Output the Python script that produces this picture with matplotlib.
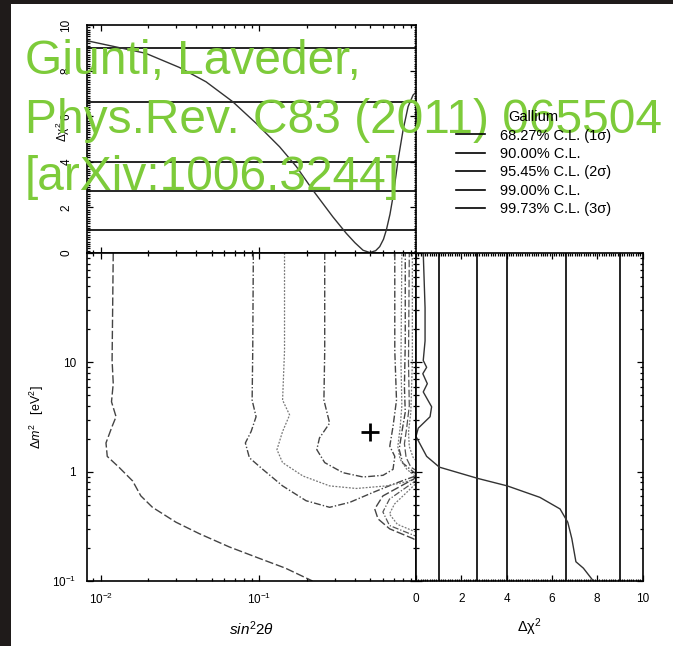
import matplotlib.pyplot as plt
from matplotlib.lines import Line2D
from matplotlib.patches import Rectangle
from matplotlib.ticker import MultipleLocator, LogLocator, NullFormatter, FixedLocator

plt.rcParams['font.family'] = ['Liberation Sans', 'DejaVu Sans']
plt.rcParams['mathtext.fontset'] = 'custom'
plt.rcParams['mathtext.rm'] = 'Liberation Sans'
plt.rcParams['mathtext.it'] = 'Liberation Sans:italic'

# confidence levels (delta chi^2, 1 dof)
cl_levels = [1.0, 2.71, 4.0, 6.63, 9.0]
cl_labels = ['68.27% C.L. (1σ)', '90.00% C.L.', '95.45% C.L. (2σ)',
             '99.00% C.L.', '99.73% C.L. (3σ)']

# top panel: delta chi^2 vs sin^2 2theta
top_s = [0.0082, 0.0192, 0.0313, 0.0461, 0.0678, 0.0953, 0.134, 0.171, 0.217,
         0.290, 0.353, 0.400, 0.450, 0.496, 0.540, 0.573, 0.605, 0.631, 0.665,
         0.695, 0.748, 0.804, 0.865, 0.930, 0.97]
top_chi = [9.31, 8.76, 8.14, 7.51, 6.64, 5.69, 4.66, 3.79, 2.76,
           1.59, 0.86, 0.45, 0.12, 0.02, 0.10, 0.28, 0.60, 1.01, 1.70,
           2.47, 4.08, 5.39, 6.42, 6.93, 7.05]

# right panel: delta chi^2 vs delta m^2
right_chi = [0.32, 0.40, 0.40, 0.32, 0.47, 0.30, 0.50, 0.32, 0.69, 0.62, 0.10, 0.0,
             0.47, 1.03, 2.75, 4.03, 5.47, 6.36, 6.70, 6.88, 7.06, 7.39, 7.83]
right_dm = [100, 31.5, 15.7, 10.4, 9.0, 7.87, 6.38, 5.36, 3.92, 3.18, 2.50, 2.10,
            1.38, 1.10, 0.865, 0.741, 0.582, 0.456, 0.345, 0.244, 0.150, 0.131, 0.1]

# main panel contours (sin^2 2theta, delta m^2)
c1_s = [0.0120, 0.0118, 0.0120, 0.0117, 0.0125, 0.0118, 0.0108, 0.0110, 0.0131,
        0.0159, 0.0179, 0.0212, 0.0298, 0.0418, 0.0646, 0.100, 0.146, 0.216]
c1_dm = [100, 10.4, 6.4, 4.36, 3.18, 2.59, 1.83, 1.38, 1.09,
         0.822, 0.601, 0.472, 0.345, 0.271, 0.205, 0.161, 0.131, 0.1]

c2_s = [0.0916, 0.0908, 0.0900, 0.0953, 0.0887, 0.0816, 0.0865, 0.105, 0.140, 0.197,
        0.277, 0.371, 0.520, 0.695, 0.845, 1.0, 0.93, 0.80, 0.76, 0.79, 0.83, 0.82, 0.83, 0.83]
c2_dm = [100, 12.8, 4.51, 3.18, 2.33, 1.83, 1.34, 1.05, 0.741, 0.542,
         0.472, 0.524, 0.646, 0.767, 0.852, 0.93, 1.0, 1.2, 1.6, 2.3, 3.5, 6.0, 15, 100]

c3_s = [0.144, 0.144, 0.140, 0.155, 0.140, 0.129, 0.140, 0.188, 0.277, 0.408, 0.631,
        0.804, 1.0, 0.85, 0.77, 0.745, 0.77, 0.79, 0.78, 0.79]
c3_dm = [100, 12.8, 4.51, 3.30, 2.33, 1.59, 1.21, 0.913, 0.741, 0.702, 0.741,
         0.795, 0.87, 1.05, 1.3, 1.7, 2.5, 4.0, 10, 100]

c4_s = [0.258, 0.258, 0.255, 0.277, 0.239, 0.230, 0.258, 0.336, 0.450, 0.601,
        0.695, 0.713, 0.663, 0.695, 0.731, 0.713, 0.713]
c4_dm = [100, 12.8, 4.51, 2.78, 2.03, 1.59, 1.21, 0.979, 0.894, 0.926,
         1.05, 1.38, 1.71, 2.59, 4.51, 12.8, 100]

c5_s = [1.0, 0.90, 0.84, 0.82, 0.85, 0.88, 0.87, 0.88]
c5_dm = [1.0, 1.1, 1.35, 1.8, 2.6, 4.0, 10, 100]

c6_s = [1.0, 0.93, 0.88, 0.87, 0.90, 0.92, 0.92]
c6_dm = [1.2, 1.35, 1.7, 2.3, 3.5, 10, 100]

# islands at low delta m^2
isl1_s = [1.0, 0.97, 0.60, 0.533, 0.559, 0.662, 0.93, 1.0]
isl1_dm = [0.90, 0.88, 0.60, 0.456, 0.37, 0.30, 0.244, 0.23]
isl2_s = [1.0, 0.97, 0.66, 0.60, 0.66, 0.95, 1.0]
isl2_dm = [0.84, 0.83, 0.561, 0.428, 0.322, 0.26, 0.255]
isl3_s = [1.0, 0.97, 0.71, 0.66, 0.74, 0.97, 1.0]
isl3_dm = [0.79, 0.78, 0.506, 0.41, 0.33, 0.28, 0.275]

best_fit = (0.50, 2.3)

W, H = 673, 646
fig = plt.figure(figsize=(W / 100, H / 100), dpi=100, facecolor='#1f1b1a')
fig.patches.append(Rectangle((11 / W, 0), 1, 1 - 4 / H, transform=fig.transFigure,
                             facecolor='white', edgecolor='none', zorder=-10))

ax_top = fig.add_axes([87 / W, 1 - 253 / H, 329 / W, 228 / H])
ax_main = fig.add_axes([87 / W, 1 - 581 / H, 329 / W, 328 / H])
ax_right = fig.add_axes([416 / W, 1 - 581 / H, 226.5 / W, 328 / H])

xlim = (0.0082, 0.97)
ylim = (0.1, 100)
tick_fs = 8.5

for ax in (ax_top, ax_main, ax_right):
    for sp in ax.spines.values():
        sp.set_linewidth(1.2)
    ax.tick_params(which='both', direction='in', top=True, right=True,
                   labelsize=tick_fs, width=0.9, colors='black')
    ax.tick_params(which='major', length=4)
    ax.tick_params(which='minor', length=2.5)

# top panel
for lv in cl_levels:
    ax_top.axhline(lv, color='black', lw=1.2)
ax_top.plot(top_s, top_chi, color='#333333', lw=1.0)
ax_top.set_xscale('log')
ax_top.set_xlim(*xlim)
ax_top.set_ylim(0, 10)
ax_top.xaxis.set_minor_locator(LogLocator(subs=range(2, 10)))
ax_top.xaxis.set_major_formatter(NullFormatter())
ax_top.xaxis.set_minor_formatter(NullFormatter())
ax_top.yaxis.set_major_locator(MultipleLocator(2))
ax_top.yaxis.set_minor_locator(MultipleLocator(0.1))
ax_top.tick_params(axis='y', which='minor', length=1.8)
ax_top.tick_params(axis='y', which='major', pad=10.5)
for lab in ax_top.get_yticklabels():
    lab.set_rotation(90)
    lab.set_va('center')
ax_top.set_ylabel('Δχ$^2$', fontsize=8.5)
ax_top.yaxis.set_label_coords(-0.046, 0.53)

# main panel
dash_a = (0, (6, 2))
dash_b = (0, (5, 1.5, 1, 1.5))
dash_c = (0, (1.5, 1.2))
ax_main.plot(c1_s, c1_dm, color='#444444', lw=1.0, ls=dash_a)
ax_main.plot(c2_s, c2_dm, color='#444444', lw=1.0, ls=dash_b)
ax_main.plot(c3_s, c3_dm, color='#777777', lw=0.9, ls=dash_c)
ax_main.plot(c4_s, c4_dm, color='#444444', lw=1.0, ls=dash_b)
ax_main.plot(c5_s, c5_dm, color='#555555', lw=0.9, ls=dash_a)
ax_main.plot(c6_s, c6_dm, color='#777777', lw=0.9, ls=dash_c)
ax_main.plot(isl1_s, isl1_dm, color='#444444', lw=1.0, ls=dash_a)
ax_main.plot(isl2_s, isl2_dm, color='#555555', lw=0.9, ls=dash_b)
ax_main.plot(isl3_s, isl3_dm, color='#777777', lw=0.9, ls=dash_c)
ax_main.plot(*best_fit, marker='+', color='black', ms=13, mew=2)
ax_main.set_xscale('log')
ax_main.set_yscale('log')
ax_main.set_xlim(*xlim)
ax_main.set_ylim(*ylim)
ax_main.xaxis.set_major_locator(FixedLocator([0.01, 0.1]))
ax_main.set_xticklabels(['$10^{-2}$', '$10^{-1}$'])
ax_main.xaxis.set_minor_locator(LogLocator(subs=range(2, 10)))
ax_main.xaxis.set_minor_formatter(NullFormatter())
ax_main.yaxis.set_major_locator(FixedLocator([0.1, 1, 10, 100]))
ax_main.set_yticklabels(['$10^{-1}$', '1', '10', ''])
ax_main.yaxis.set_minor_locator(LogLocator(subs=range(2, 10)))
ax_main.yaxis.set_minor_formatter(NullFormatter())
ax_main.tick_params(axis='x', pad=8)
ax_main.tick_params(axis='y', pad=8)
ax_main.set_xlabel('$sin^2 2\\theta$', fontsize=11)
ax_main.xaxis.set_label_coords(0.5, -0.118)
ax_main.set_ylabel('Δ$m^2$   [eV$^2$]', fontsize=9)
ax_main.yaxis.set_label_coords(-0.125, 0.5)

# right panel
for lv in cl_levels:
    ax_right.axvline(lv, color='black', lw=1.2)
ax_right.plot(right_chi, right_dm, color='#333333', lw=1.0)
ax_right.set_yscale('log')
ax_right.set_xlim(0, 10)
ax_right.set_ylim(*ylim)
ax_right.xaxis.set_major_locator(MultipleLocator(2))
ax_right.xaxis.set_minor_locator(MultipleLocator(0.1))
ax_right.tick_params(axis='x', which='minor', length=1.8)
ax_right.yaxis.set_minor_locator(LogLocator(subs=range(2, 10)))
ax_right.yaxis.set_major_formatter(NullFormatter())
ax_right.yaxis.set_minor_formatter(NullFormatter())
ax_right.tick_params(axis='x', pad=9)
ax_right.set_xlabel('Δχ$^2$', fontsize=10.5)
ax_right.xaxis.set_label_coords(0.5, -0.108)

# legend
handles = [Line2D([], [], color='black', lw=1.2) for _ in cl_labels]
leg = fig.legend(handles, cl_labels, title='Gallium', loc='upper left',
                 bbox_to_anchor=(446 / W, 1 - 100 / H), frameon=False,
                 fontsize=10.5, title_fontsize=10.5, handlelength=2.0,
                 handletextpad=1.0, labelspacing=0.3, borderpad=0.2)
leg._legend_box.align = 'center'

# overlaid citation
green = '#7dcb3a'
fig.text(25 / W, 1 - 74 / H, 'Giunti, Laveder,', color=green, fontsize=34.5, va='baseline')
fig.text(25 / W, 1 - 133 / H, 'Phys.Rev. C83 (2011) 065504', color=green, fontsize=34.5, va='baseline')
fig.text(25 / W, 1 - 190 / H, '[arXiv:1006.3244]', color=green, fontsize=34.5, va='baseline')

fig.savefig('out.png', dpi=100, facecolor=fig.get_facecolor())
